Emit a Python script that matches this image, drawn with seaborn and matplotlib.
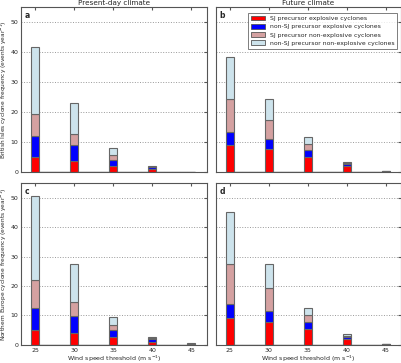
import numpy as np
import pandas as pd
import matplotlib
matplotlib.use('Agg')
import matplotlib.pyplot as plt
import seaborn as sns

thresholds = [25, 30, 35, 40, 45]
categories = ['SJ precursor explosive cyclones',
              'non-SJ precursor explosive cyclones',
              'SJ precursor non-explosive cyclones',
              'non-SJ precursor non-explosive cyclones']

# per-category frequencies (events / year), stacked bottom-to-top in category order
bi_present_sj_exp = [5.3, 3.9, 2.0, 1.0, 0.1]
bi_present_nsj_exp = [6.7, 5.3, 2.2, 0.7, 0.1]
bi_present_sj_nexp = [7.3, 3.6, 1.7, 0.2, 0.05]
bi_present_nsj_nexp = [22.5, 10.2, 2.2, 0.2, 0.05]

bi_future_sj_exp = [9.0, 7.7, 5.3, 2.0, 0.3]
bi_future_nsj_exp = [4.3, 3.5, 2.3, 0.8, 0.1]
bi_future_sj_nexp = [11.2, 6.3, 2.0, 0.3, 0.05]
bi_future_nsj_nexp = [13.9, 7.0, 2.1, 0.4, 0.05]

ne_present_sj_exp = [5.2, 4.1, 2.5, 1.1, 0.2]
ne_present_nsj_exp = [7.3, 5.7, 2.4, 0.8, 0.2]
ne_present_sj_nexp = [9.5, 4.6, 1.8, 0.3, 0.05]
ne_present_nsj_nexp = [28.4, 12.9, 2.8, 0.3, 0.05]

ne_future_sj_exp = [9.2, 7.8, 5.5, 1.9, 0.2]
ne_future_nsj_exp = [4.6, 3.7, 2.2, 0.8, 0.05]
ne_future_sj_nexp = [13.5, 7.8, 2.6, 0.3, 0.05]
ne_future_nsj_nexp = [17.7, 8.2, 2.2, 0.7, 0.05]

colors = ['#ff0000', '#0000ff', '#d4a1a1', '#cde3ec']


def make_df(*series):
    rows = []
    for cat, vals in zip(categories, series):
        for t, v in zip(thresholds, vals):
            rows.append({'threshold': t, 'freq': v, 'type': cat})
    return pd.DataFrame(rows)


panels = [
    ('a', make_df(bi_present_sj_exp, bi_present_nsj_exp, bi_present_sj_nexp, bi_present_nsj_nexp)),
    ('b', make_df(bi_future_sj_exp, bi_future_nsj_exp, bi_future_sj_nexp, bi_future_nsj_nexp)),
    ('c', make_df(ne_present_sj_exp, ne_present_nsj_exp, ne_present_sj_nexp, ne_present_nsj_nexp)),
    ('d', make_df(ne_future_sj_exp, ne_future_nsj_exp, ne_future_sj_nexp, ne_future_nsj_nexp)),
]

sns.set_style('white')
plt.rcParams['font.family'] = ['DejaVu Sans']

fig = plt.figure(figsize=(4.02, 3.63), dpi=100)
positions = [
    [0.052, 0.525, 0.463, 0.455],
    [0.537, 0.525, 0.461, 0.455],
    [0.052, 0.050, 0.463, 0.446],
    [0.537, 0.050, 0.461, 0.446],
]

for i, (letter, df) in enumerate(panels):
    ax = fig.add_axes(positions[i])
    sns.histplot(data=df, x='threshold', weights='freq', hue='type',
                 hue_order=categories[::-1], palette=dict(zip(categories, colors)),
                 multiple='stack', discrete=True, shrink=1.0, alpha=1,
                 edgecolor='#666666', linewidth=0.8, legend=False, ax=ax)
    ax.set_xlim(23.2, 47.0)
    ax.set_ylim(0, 55)
    ax.set_xticks(thresholds)
    ax.set_yticks([0, 10, 20, 30, 40, 50])
    ax.yaxis.grid(True, linestyle=':', color='#999999', linewidth=0.7)
    ax.set_axisbelow(True)
    ax.tick_params(direction='in', top=True, right=True, length=2.5,
                   labelsize=4.5, pad=2, color='#555555')
    for s in ax.spines.values():
        s.set_color('#555555')
        s.set_linewidth(0.8)
    ax.text(0.02, 0.975, letter, transform=ax.transAxes, fontsize=5.5,
            fontweight='bold', va='top', ha='left')
    ax.set_ylabel('')
    ax.set_xlabel('')
    if i in (1, 3):
        ax.set_yticklabels([])
    if i in (0, 1):
        ax.set_xticklabels([])
    else:
        ax.set_xlabel('Wind speed threshold (m s$^{-1}$)', fontsize=4.5, labelpad=1)
    if i == 0:
        ax.set_title('Present-day climate', fontsize=5.2, pad=1.5)
        ax.set_ylabel('British Isles cyclone frequency (events year$^{-1}$)', fontsize=4.2, labelpad=0.8)
    if i == 1:
        ax.set_title('Future climate', fontsize=5.2, pad=1.5)
        handles = [plt.Rectangle((0, 0), 1, 1, facecolor=c, edgecolor='#555555', linewidth=0.6)
                   for c in colors]
        leg = ax.legend(handles, categories, loc='upper right', fontsize=4.45,
                        frameon=True, fancybox=False, handlelength=2.3, handleheight=0.8,
                        borderpad=0.45, labelspacing=0.45, handletextpad=0.7,
                        bbox_to_anchor=(0.995, 0.985))
        leg.get_frame().set_edgecolor('#444444')
        leg.get_frame().set_linewidth(0.6)
    if i == 2:
        ax.set_ylabel('Northern Europe cyclone frequency (events year$^{-1}$)', fontsize=4.2, labelpad=0.8)

fig.savefig('out.png', dpi=100)
